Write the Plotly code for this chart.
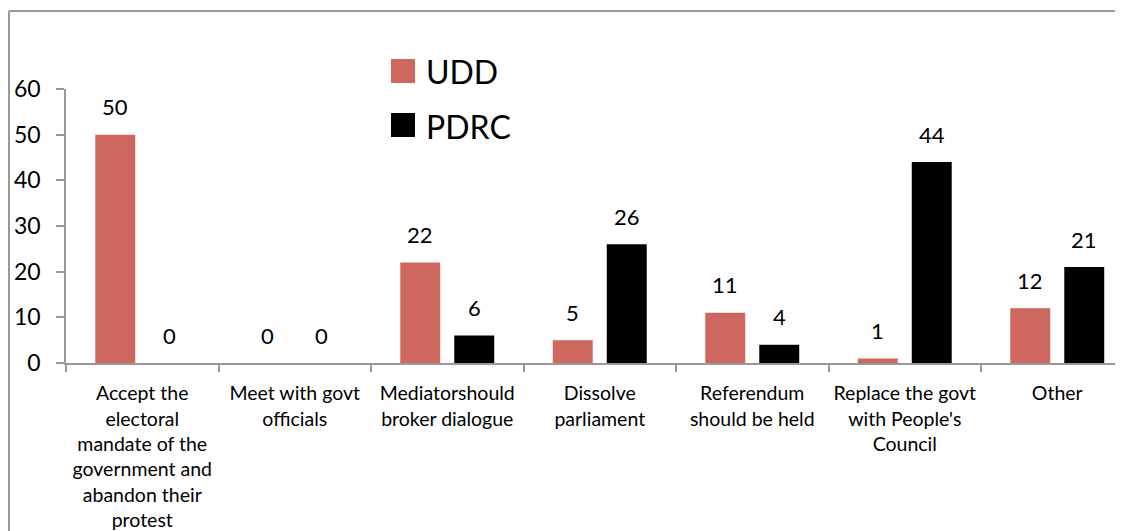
import plotly.graph_objects as go

categories = [
    "Accept the<br>electoral<br>mandate of the<br>government and<br>abandon their<br>protest",
    "Meet with govt<br>officials",
    "Mediatorshould<br>broker dialogue",
    "Dissolve<br>parliament",
    "Referendum<br>should be held",
    "Replace the govt<br>with People's<br>Council",
    "Other",
]
series_names = ["UDD", "PDRC"]
udd_values = [50, 0, 22, 5, 11, 1, 12]
pdrc_values = [0, 0, 6, 26, 4, 44, 21]
series_values = [udd_values, pdrc_values]
series_colors = ["#CD675F", "#000000"]
y_ticks = [0, 10, 20, 30, 40, 50, 60]

FONT = "Lato, 'Open Sans', sans-serif"
OFF = 8  # page body margin
W, H = 1123, 531 - OFF
ML = 66 - OFF
MT = 89 - OFF
MB = H - (363 - OFF)
PW = W - ML
PH = H - MT - MB


def px_x(p):
    # p: pixel in reference window coordinates
    return (p - OFF - ML) / PW


def px_y(p):
    return (H - MB - (p - OFF)) / PH


fig = go.Figure()
for name, vals, col in zip(series_names, series_values, series_colors):
    fig.add_trace(go.Bar(x=categories, y=vals, name=name, marker_color=col,
                         marker_line_width=0, showlegend=False))

annotations = []
for vals, shift in zip(series_values, [-27, 27]):
    for c, v in zip(categories, vals):
        annotations.append(dict(x=c, y=v, xref="x", yref="y", text=str(v),
                                showarrow=False, xshift=shift, yshift=28,
                                font=dict(family=FONT, size=22, color="#000")))

# manual legend
legend_rows = [71, 125]
shapes = []
for name, col, yc in zip(series_names, series_colors, legend_rows):
    shapes.append(dict(type="rect", xref="paper", yref="paper",
                       x0=px_x(391), x1=px_x(415), y0=px_y(yc + 12), y1=px_y(yc - 12),
                       fillcolor=col, line_width=0))
    annotations.append(dict(x=px_x(424), y=px_y(yc + 1), xref="paper", yref="paper",
                            text=name, showarrow=False, xanchor="left", yanchor="middle",
                            font=dict(family=FONT, size=32, color="#000")))

# outer frame
shapes.append(dict(type="line", xref="paper", yref="paper",
                   x0=px_x(9), x1=px_x(1200), y0=px_y(11), y1=px_y(11),
                   line=dict(color="#999999", width=2)))
shapes.append(dict(type="line", xref="paper", yref="paper",
                   x0=px_x(9), x1=px_x(9), y0=px_y(11), y1=px_y(600),
                   line=dict(color="#999999", width=2)))

right_end = -0.5 + PW / 152.5

fig.update_layout(
    width=W, height=H,
    margin=dict(l=ML, r=0, t=MT, b=MB, pad=0),
    paper_bgcolor="white", plot_bgcolor="white",
    barmode="group", bargap=0.292, bargroupgap=0.26,
    font=dict(family=FONT, color="#000"),
    shapes=shapes, annotations=annotations,
    xaxis=dict(range=[-0.5, right_end], showline=True, linecolor="#999999", linewidth=1.5,
               ticks="outside", tickson="boundaries", ticklen=7, tickcolor="#999999",
               tickwidth=1.5, tickfont=dict(family=FONT, size=19.5, color="#000"),
               ticklabelstandoff=12,
               tickangle=0, showgrid=False, zeroline=False),
    yaxis=dict(range=[0, 60], tickvals=y_ticks, showline=True, linecolor="#999999",
               linewidth=1.5, ticks="outside", ticklen=8, tickcolor="#999999", tickwidth=1.5,
               tickfont=dict(family=FONT, size=23, color="#000"), ticklabelstandoff=11,
               showgrid=False, zeroline=False),
)

fig.write_html("out.html")
